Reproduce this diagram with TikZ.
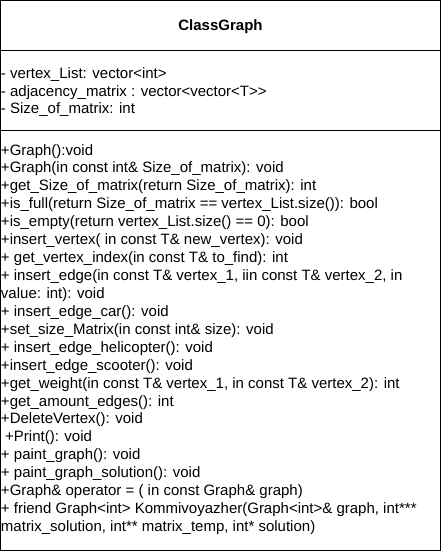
\documentclass[tikz,border=0pt]{standalone}
\usepackage{fontspec}
\setmainfont{Liberation Sans}
\begin{document}
\begin{tikzpicture}[x=1pt,y=-1pt,
  txt/.style={anchor=base west,inner sep=0pt,outer sep=0pt,font=\fontsize{15}{18}\selectfont},
  ttl/.style={anchor=base,inner sep=0pt,font=\fontsize{15}{18}\selectfont\bfseries},
  frame/.style={draw=black,line width=1pt}]
\useasboundingbox (0,0) rectangle (441,551);
\draw[frame] (0.5,0.5) rectangle (440.5,550.5);
\draw[frame] (0.5,50.5) -- (440.5,50.5);
\draw[frame] (0.5,130.5) -- (440.5,130.5);
\node[ttl] (title) at (220.5,31) {ClassGraph};
\node[txt] (a1) at (1,78) {- vertex\_List: vector<int>};
\node[txt] (a2) at (1,96) {- adjacency\_matrix : vector<vector<T>{}>};
\node[txt] (a3) at (1,113.9) {- Size\_of\_matrix: int};
\def\bl{155}\def\sp{17.93}
\node[txt] (m1) at (1,\bl+0*\sp) {+Graph():void};
\node[txt] (m2) at (1,\bl+1*\sp) {+Graph(in const int\& Size\_of\_matrix): void};
\node[txt] (m3) at (1,\bl+2*\sp) {+get\_Size\_of\_matrix(return Size\_of\_matrix): int};
\node[txt] (m4) at (1,\bl+3*\sp) {+is\_full(return Size\_of\_matrix == vertex\_List.size()): bool};
\node[txt] (m5) at (1,\bl+4*\sp) {+is\_empty(return vertex\_List.size() == 0): bool};
\node[txt] (m6) at (1,\bl+5*\sp) {+insert\_vertex( in const T\& new\_vertex): void};
\node[txt] (m7) at (1,\bl+6*\sp) {+ get\_vertex\_index(in const T\& to\_find): int};
\node[txt] (m8) at (1,\bl+7*\sp) {+ insert\_edge(in const T\& vertex\_1, iin const T\& vertex\_2, in};
\node[txt] (m9) at (1,\bl+8*\sp) {value: int): void};
\node[txt] (m10) at (1,\bl+9*\sp) {+ insert\_edge\_car(): void};
\node[txt] (m11) at (1,\bl+10*\sp) {+set\_size\_Matrix(in const int\& size): void};
\node[txt] (m12) at (1,\bl+11*\sp) {+ insert\_edge\_helicopter(): void};
\node[txt] (m13) at (1,\bl+12*\sp) {+insert\_edge\_scooter(): void};
\node[txt] (m14) at (1,\bl+13*\sp) {+get\_weight(in const T\& vertex\_1, in const T\& vertex\_2): int};
\node[txt] (m15) at (1,\bl+14*\sp) {+get\_amount\_edges(): int};
\node[txt] (m16) at (1,\bl+15*\sp) {+DeleteVertex(): void};
\node[txt] (m17) at (1,\bl+16*\sp) {\ +Print(): void};
\node[txt] (m18) at (1,\bl+17*\sp) {+ paint\_graph(): void};
\node[txt] (m19) at (1,\bl+18*\sp) {+ paint\_graph\_solution(): void};
\node[txt] (m20) at (1,\bl+19*\sp) {+Graph\& operator = ( in const Graph\& graph)};
\node[txt] (m21) at (1,\bl+20*\sp) {+ friend Graph<int> Kommivoyazher(Graph<int>\& graph, int***};
\node[txt] (m22) at (1,\bl+21*\sp) {matrix\_solution, int** matrix\_temp, int* solution)};
\end{tikzpicture}
\end{document}
